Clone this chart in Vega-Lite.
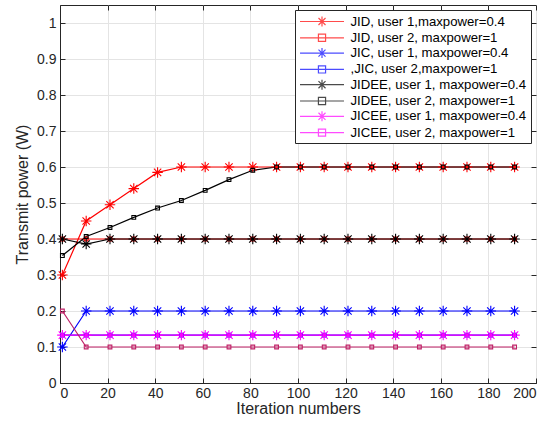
{
"$schema": "https://vega.github.io/schema/vega-lite/v6.json",
"width": 476, "height": 378,
"autosize": {"type": "none"},
"padding": {"left": 60, "top": 5, "right": 23, "bottom": 45},
"config": {
  "font": "Liberation Sans",
  "view": {"stroke": "#262626", "strokeWidth": 1},
  "axis": {"domainColor": "#262626", "tickColor": "#262626", "labelColor": "#262626", "titleColor": "#262626", "gridColor": "#e4e4e4", "labelFontSize": 14, "titleFontSize": 16, "titleFontWeight": "normal", "tickSize": -5, "labelFont": "Liberation Sans", "titleFont": "Liberation Sans"},
  "legend": {"orient": "top-right", "offset": 5, "strokeColor": "#262626", "fillColor": "white", "cornerRadius": 0, "padding": 4, "symbolSize": 169, "symbolOffset": 15.5, "labelOffset": 21, "rowPadding": 1.3, "symbolStrokeWidth": 1.2, "labelFontSize": 13.2, "labelFont": "Liberation Sans", "labelColor": "#000000", "labelLimit": 300}
},
"data": {"values": [
{"series":"JID, user 1,maxpower=0.4","x":1,"y":0.30},{"series":"JID, user 1,maxpower=0.4","x":11,"y":0.45},{"series":"JID, user 1,maxpower=0.4","x":21,"y":0.495},{"series":"JID, user 1,maxpower=0.4","x":31,"y":0.54},{"series":"JID, user 1,maxpower=0.4","x":41,"y":0.585},{"series":"JID, user 1,maxpower=0.4","x":51,"y":0.60},{"series":"JID, user 1,maxpower=0.4","x":61,"y":0.60},{"series":"JID, user 1,maxpower=0.4","x":71,"y":0.60},{"series":"JID, user 1,maxpower=0.4","x":81,"y":0.60},{"series":"JID, user 1,maxpower=0.4","x":91,"y":0.60},{"series":"JID, user 1,maxpower=0.4","x":101,"y":0.60},{"series":"JID, user 1,maxpower=0.4","x":111,"y":0.60},{"series":"JID, user 1,maxpower=0.4","x":121,"y":0.60},{"series":"JID, user 1,maxpower=0.4","x":131,"y":0.60},{"series":"JID, user 1,maxpower=0.4","x":141,"y":0.60},{"series":"JID, user 1,maxpower=0.4","x":151,"y":0.60},{"series":"JID, user 1,maxpower=0.4","x":161,"y":0.60},{"series":"JID, user 1,maxpower=0.4","x":171,"y":0.60},{"series":"JID, user 1,maxpower=0.4","x":181,"y":0.60},{"series":"JID, user 1,maxpower=0.4","x":191,"y":0.60},
{"series":"JID, user 2, maxpower=1","x":1,"y":0.40},{"series":"JID, user 2, maxpower=1","x":11,"y":0.40},{"series":"JID, user 2, maxpower=1","x":21,"y":0.40},{"series":"JID, user 2, maxpower=1","x":31,"y":0.40},{"series":"JID, user 2, maxpower=1","x":41,"y":0.40},{"series":"JID, user 2, maxpower=1","x":51,"y":0.40},{"series":"JID, user 2, maxpower=1","x":61,"y":0.40},{"series":"JID, user 2, maxpower=1","x":71,"y":0.40},{"series":"JID, user 2, maxpower=1","x":81,"y":0.40},{"series":"JID, user 2, maxpower=1","x":91,"y":0.40},{"series":"JID, user 2, maxpower=1","x":101,"y":0.40},{"series":"JID, user 2, maxpower=1","x":111,"y":0.40},{"series":"JID, user 2, maxpower=1","x":121,"y":0.40},{"series":"JID, user 2, maxpower=1","x":131,"y":0.40},{"series":"JID, user 2, maxpower=1","x":141,"y":0.40},{"series":"JID, user 2, maxpower=1","x":151,"y":0.40},{"series":"JID, user 2, maxpower=1","x":161,"y":0.40},{"series":"JID, user 2, maxpower=1","x":171,"y":0.40},{"series":"JID, user 2, maxpower=1","x":181,"y":0.40},{"series":"JID, user 2, maxpower=1","x":191,"y":0.40},
{"series":"JIC, user 1, maxpower=0.4","x":1,"y":0.10},{"series":"JIC, user 1, maxpower=0.4","x":11,"y":0.20},{"series":"JIC, user 1, maxpower=0.4","x":21,"y":0.20},{"series":"JIC, user 1, maxpower=0.4","x":31,"y":0.20},{"series":"JIC, user 1, maxpower=0.4","x":41,"y":0.20},{"series":"JIC, user 1, maxpower=0.4","x":51,"y":0.20},{"series":"JIC, user 1, maxpower=0.4","x":61,"y":0.20},{"series":"JIC, user 1, maxpower=0.4","x":71,"y":0.20},{"series":"JIC, user 1, maxpower=0.4","x":81,"y":0.20},{"series":"JIC, user 1, maxpower=0.4","x":91,"y":0.20},{"series":"JIC, user 1, maxpower=0.4","x":101,"y":0.20},{"series":"JIC, user 1, maxpower=0.4","x":111,"y":0.20},{"series":"JIC, user 1, maxpower=0.4","x":121,"y":0.20},{"series":"JIC, user 1, maxpower=0.4","x":131,"y":0.20},{"series":"JIC, user 1, maxpower=0.4","x":141,"y":0.20},{"series":"JIC, user 1, maxpower=0.4","x":151,"y":0.20},{"series":"JIC, user 1, maxpower=0.4","x":161,"y":0.20},{"series":"JIC, user 1, maxpower=0.4","x":171,"y":0.20},{"series":"JIC, user 1, maxpower=0.4","x":181,"y":0.20},{"series":"JIC, user 1, maxpower=0.4","x":191,"y":0.20},
{"series":",JIC, user 2,maxpower=1","x":1,"y":0.133},{"series":",JIC, user 2,maxpower=1","x":11,"y":0.133},{"series":",JIC, user 2,maxpower=1","x":21,"y":0.133},{"series":",JIC, user 2,maxpower=1","x":31,"y":0.133},{"series":",JIC, user 2,maxpower=1","x":41,"y":0.133},{"series":",JIC, user 2,maxpower=1","x":51,"y":0.133},{"series":",JIC, user 2,maxpower=1","x":61,"y":0.133},{"series":",JIC, user 2,maxpower=1","x":71,"y":0.133},{"series":",JIC, user 2,maxpower=1","x":81,"y":0.133},{"series":",JIC, user 2,maxpower=1","x":91,"y":0.133},{"series":",JIC, user 2,maxpower=1","x":101,"y":0.133},{"series":",JIC, user 2,maxpower=1","x":111,"y":0.133},{"series":",JIC, user 2,maxpower=1","x":121,"y":0.133},{"series":",JIC, user 2,maxpower=1","x":131,"y":0.133},{"series":",JIC, user 2,maxpower=1","x":141,"y":0.133},{"series":",JIC, user 2,maxpower=1","x":151,"y":0.133},{"series":",JIC, user 2,maxpower=1","x":161,"y":0.133},{"series":",JIC, user 2,maxpower=1","x":171,"y":0.133},{"series":",JIC, user 2,maxpower=1","x":181,"y":0.133},{"series":",JIC, user 2,maxpower=1","x":191,"y":0.133},
{"series":"JIDEE, user 1, maxpower=0.4","x":1,"y":0.40},{"series":"JIDEE, user 1, maxpower=0.4","x":11,"y":0.386},{"series":"JIDEE, user 1, maxpower=0.4","x":21,"y":0.40},{"series":"JIDEE, user 1, maxpower=0.4","x":31,"y":0.40},{"series":"JIDEE, user 1, maxpower=0.4","x":41,"y":0.40},{"series":"JIDEE, user 1, maxpower=0.4","x":51,"y":0.40},{"series":"JIDEE, user 1, maxpower=0.4","x":61,"y":0.40},{"series":"JIDEE, user 1, maxpower=0.4","x":71,"y":0.40},{"series":"JIDEE, user 1, maxpower=0.4","x":81,"y":0.40},{"series":"JIDEE, user 1, maxpower=0.4","x":91,"y":0.40},{"series":"JIDEE, user 1, maxpower=0.4","x":101,"y":0.40},{"series":"JIDEE, user 1, maxpower=0.4","x":111,"y":0.40},{"series":"JIDEE, user 1, maxpower=0.4","x":121,"y":0.40},{"series":"JIDEE, user 1, maxpower=0.4","x":131,"y":0.40},{"series":"JIDEE, user 1, maxpower=0.4","x":141,"y":0.40},{"series":"JIDEE, user 1, maxpower=0.4","x":151,"y":0.40},{"series":"JIDEE, user 1, maxpower=0.4","x":161,"y":0.40},{"series":"JIDEE, user 1, maxpower=0.4","x":171,"y":0.40},{"series":"JIDEE, user 1, maxpower=0.4","x":181,"y":0.40},{"series":"JIDEE, user 1, maxpower=0.4","x":191,"y":0.40},
{"series":"JIDEE, user 2, maxpower=1","x":1,"y":0.354},{"series":"JIDEE, user 2, maxpower=1","x":11,"y":0.407},{"series":"JIDEE, user 2, maxpower=1","x":21,"y":0.432},{"series":"JIDEE, user 2, maxpower=1","x":31,"y":0.460},{"series":"JIDEE, user 2, maxpower=1","x":41,"y":0.486},{"series":"JIDEE, user 2, maxpower=1","x":51,"y":0.507},{"series":"JIDEE, user 2, maxpower=1","x":61,"y":0.535},{"series":"JIDEE, user 2, maxpower=1","x":71,"y":0.565},{"series":"JIDEE, user 2, maxpower=1","x":81,"y":0.591},{"series":"JIDEE, user 2, maxpower=1","x":91,"y":0.60},{"series":"JIDEE, user 2, maxpower=1","x":101,"y":0.60},{"series":"JIDEE, user 2, maxpower=1","x":111,"y":0.60},{"series":"JIDEE, user 2, maxpower=1","x":121,"y":0.60},{"series":"JIDEE, user 2, maxpower=1","x":131,"y":0.60},{"series":"JIDEE, user 2, maxpower=1","x":141,"y":0.60},{"series":"JIDEE, user 2, maxpower=1","x":151,"y":0.60},{"series":"JIDEE, user 2, maxpower=1","x":161,"y":0.60},{"series":"JIDEE, user 2, maxpower=1","x":171,"y":0.60},{"series":"JIDEE, user 2, maxpower=1","x":181,"y":0.60},{"series":"JIDEE, user 2, maxpower=1","x":191,"y":0.60},
{"series":"JICEE, user 1, maxpower=0.4","x":1,"y":0.133},{"series":"JICEE, user 1, maxpower=0.4","x":11,"y":0.133},{"series":"JICEE, user 1, maxpower=0.4","x":21,"y":0.133},{"series":"JICEE, user 1, maxpower=0.4","x":31,"y":0.133},{"series":"JICEE, user 1, maxpower=0.4","x":41,"y":0.133},{"series":"JICEE, user 1, maxpower=0.4","x":51,"y":0.133},{"series":"JICEE, user 1, maxpower=0.4","x":61,"y":0.133},{"series":"JICEE, user 1, maxpower=0.4","x":71,"y":0.133},{"series":"JICEE, user 1, maxpower=0.4","x":81,"y":0.133},{"series":"JICEE, user 1, maxpower=0.4","x":91,"y":0.133},{"series":"JICEE, user 1, maxpower=0.4","x":101,"y":0.133},{"series":"JICEE, user 1, maxpower=0.4","x":111,"y":0.133},{"series":"JICEE, user 1, maxpower=0.4","x":121,"y":0.133},{"series":"JICEE, user 1, maxpower=0.4","x":131,"y":0.133},{"series":"JICEE, user 1, maxpower=0.4","x":141,"y":0.133},{"series":"JICEE, user 1, maxpower=0.4","x":151,"y":0.133},{"series":"JICEE, user 1, maxpower=0.4","x":161,"y":0.133},{"series":"JICEE, user 1, maxpower=0.4","x":171,"y":0.133},{"series":"JICEE, user 1, maxpower=0.4","x":181,"y":0.133},{"series":"JICEE, user 1, maxpower=0.4","x":191,"y":0.133},
{"series":"JICEE, user 2, maxpower=1","x":1,"y":0.20},{"series":"JICEE, user 2, maxpower=1","x":11,"y":0.10},{"series":"JICEE, user 2, maxpower=1","x":21,"y":0.10},{"series":"JICEE, user 2, maxpower=1","x":31,"y":0.10},{"series":"JICEE, user 2, maxpower=1","x":41,"y":0.10},{"series":"JICEE, user 2, maxpower=1","x":51,"y":0.10},{"series":"JICEE, user 2, maxpower=1","x":61,"y":0.10},{"series":"JICEE, user 2, maxpower=1","x":71,"y":0.10},{"series":"JICEE, user 2, maxpower=1","x":81,"y":0.10},{"series":"JICEE, user 2, maxpower=1","x":91,"y":0.10},{"series":"JICEE, user 2, maxpower=1","x":101,"y":0.10},{"series":"JICEE, user 2, maxpower=1","x":111,"y":0.10},{"series":"JICEE, user 2, maxpower=1","x":121,"y":0.10},{"series":"JICEE, user 2, maxpower=1","x":131,"y":0.10},{"series":"JICEE, user 2, maxpower=1","x":141,"y":0.10},{"series":"JICEE, user 2, maxpower=1","x":151,"y":0.10},{"series":"JICEE, user 2, maxpower=1","x":161,"y":0.10},{"series":"JICEE, user 2, maxpower=1","x":171,"y":0.10},{"series":"JICEE, user 2, maxpower=1","x":181,"y":0.10},{"series":"JICEE, user 2, maxpower=1","x":191,"y":0.10}
]},
"layer": [
  {
    "mark": {"type": "line", "strokeWidth": 1.2},
    "encoding": {
      "x": {"field": "x", "type": "quantitative", "scale": {"domain": [0, 200], "nice": false}, "axis": {"orient": "bottom", "values": [0,20,40,60,80,100,120,140,160,180,200], "title": "Iteration numbers", "grid": true, "labelPadding": 8, "titlePadding": 0}},
      "y": {"field": "y", "type": "quantitative", "scale": {"domain": [0, 1.05], "nice": false, "zero": false}, "axis": {"orient": "left", "values": [0,0.1,0.2,0.3,0.4,0.5,0.6,0.7,0.8,0.9,1], "format": "~g", "title": "Transmit power (W)", "grid": true, "labelPadding": 9, "titlePadding": 6}},
      "color": {"field": "series", "type": "nominal", "sort": null, "scale": {"domain": ["JID, user 1,maxpower=0.4","JID, user 2, maxpower=1","JIC, user 1, maxpower=0.4",",JIC, user 2,maxpower=1","JIDEE, user 1, maxpower=0.4","JIDEE, user 2, maxpower=1","JICEE, user 1, maxpower=0.4","JICEE, user 2, maxpower=1"], "range": ["#ff0000","#ff0000","#0000ff","#0000ff","#000000","#000000","#ff00ff","#bf2066"]}, "legend": null}
    }
  },
  {
    "mark": {"type": "point", "filled": false, "size": 110, "strokeWidth": 1.1, "opacity": 1},
    "encoding": {
      "x": {"field": "x", "type": "quantitative", "axis": {"orient": "top", "values": [0,20,40,60,80,100,120,140,160,180,200], "labels": false, "title": null, "grid": false, "domain": false}},
      "y": {"field": "y", "type": "quantitative", "axis": {"orient": "right", "values": [0,0.1,0.2,0.3,0.4,0.5,0.6,0.7,0.8,0.9,1], "labels": false, "title": null, "grid": false, "domain": false}},
      "color": {"field": "series", "type": "nominal", "sort": null, "scale": {"domain": ["JID, user 1,maxpower=0.4","JID, user 2, maxpower=1","JIC, user 1, maxpower=0.4",",JIC, user 2,maxpower=1","JIDEE, user 1, maxpower=0.4","JIDEE, user 2, maxpower=1","JICEE, user 1, maxpower=0.4","JICEE, user 2, maxpower=1"], "range": ["#ff0000","#ff0000","#0000ff","#0000ff","#000000","#000000","#ff00ff","#bf2066"]}, "legend": null},
      "shape": {"field": "series", "type": "nominal", "sort": null, "scale": {"domain": ["JID, user 1,maxpower=0.4","JID, user 2, maxpower=1","JIC, user 1, maxpower=0.4",",JIC, user 2,maxpower=1","JIDEE, user 1, maxpower=0.4","JIDEE, user 2, maxpower=1","JICEE, user 1, maxpower=0.4","JICEE, user 2, maxpower=1"], "range": ["M-1,0L1,0M0,-1L0,1M-0.7,-0.7L0.7,0.7M-0.7,0.7L0.7,-0.7","M-0.36,-0.36L0.36,-0.36L0.36,0.36L-0.36,0.36Z","M-1,0L1,0M0,-1L0,1M-0.7,-0.7L0.7,0.7M-0.7,0.7L0.7,-0.7","M-0.36,-0.36L0.36,-0.36L0.36,0.36L-0.36,0.36Z","M-1,0L1,0M0,-1L0,1M-0.7,-0.7L0.7,0.7M-0.7,0.7L0.7,-0.7","M-0.36,-0.36L0.36,-0.36L0.36,0.36L-0.36,0.36Z","M-1,0L1,0M0,-1L0,1M-0.7,-0.7L0.7,0.7M-0.7,0.7L0.7,-0.7","M-0.36,-0.36L0.36,-0.36L0.36,0.36L-0.36,0.36Z"]}, "legend": null}
    }
  },
  {
    "transform": [{"filter": "datum.x < 0"}],
    "mark": {"type": "point", "filled": false, "strokeWidth": 1.2},
    "encoding": {
      "x": {"field": "x", "type": "quantitative", "axis": null},
      "y": {"field": "y", "type": "quantitative", "axis": null},
      "color": {"field": "series", "type": "nominal", "sort": null, "scale": {"domain": ["JID, user 1,maxpower=0.4","JID, user 2, maxpower=1","JIC, user 1, maxpower=0.4",",JIC, user 2,maxpower=1","JIDEE, user 1, maxpower=0.4","JIDEE, user 2, maxpower=1","JICEE, user 1, maxpower=0.4","JICEE, user 2, maxpower=1"], "range": ["#ff0000","#ff0000","#0000ff","#0000ff","#000000","#000000","#ff00ff","#ff00ff"]}, "legend": {"title": null}},
      "shape": {"field": "series", "type": "nominal", "sort": null, "scale": {"domain": ["JID, user 1,maxpower=0.4","JID, user 2, maxpower=1","JIC, user 1, maxpower=0.4",",JIC, user 2,maxpower=1","JIDEE, user 1, maxpower=0.4","JIDEE, user 2, maxpower=1","JICEE, user 1, maxpower=0.4","JICEE, user 2, maxpower=1"], "range": ["M-3.38,0L3.38,0M0,-0.77L0,0.77M-0.54,-0.54L0.54,0.54M-0.54,0.54L0.54,-0.54","M-3.38,0L3.38,0M-0.55,-0.55L0.55,-0.55L0.55,0.55L-0.55,0.55Z","M-3.38,0L3.38,0M0,-0.77L0,0.77M-0.54,-0.54L0.54,0.54M-0.54,0.54L0.54,-0.54","M-3.38,0L3.38,0M-0.55,-0.55L0.55,-0.55L0.55,0.55L-0.55,0.55Z","M-3.38,0L3.38,0M0,-0.77L0,0.77M-0.54,-0.54L0.54,0.54M-0.54,0.54L0.54,-0.54","M-3.38,0L3.38,0M-0.55,-0.55L0.55,-0.55L0.55,0.55L-0.55,0.55Z","M-3.38,0L3.38,0M0,-0.77L0,0.77M-0.54,-0.54L0.54,0.54M-0.54,0.54L0.54,-0.54","M-3.38,0L3.38,0M-0.55,-0.55L0.55,-0.55L0.55,0.55L-0.55,0.55Z"]}, "legend": {"title": null}}
    }
  }
],
"resolve": {"scale": {"color": "independent", "shape": "independent"}, "axis": {"x": "independent", "y": "independent"}}
}
